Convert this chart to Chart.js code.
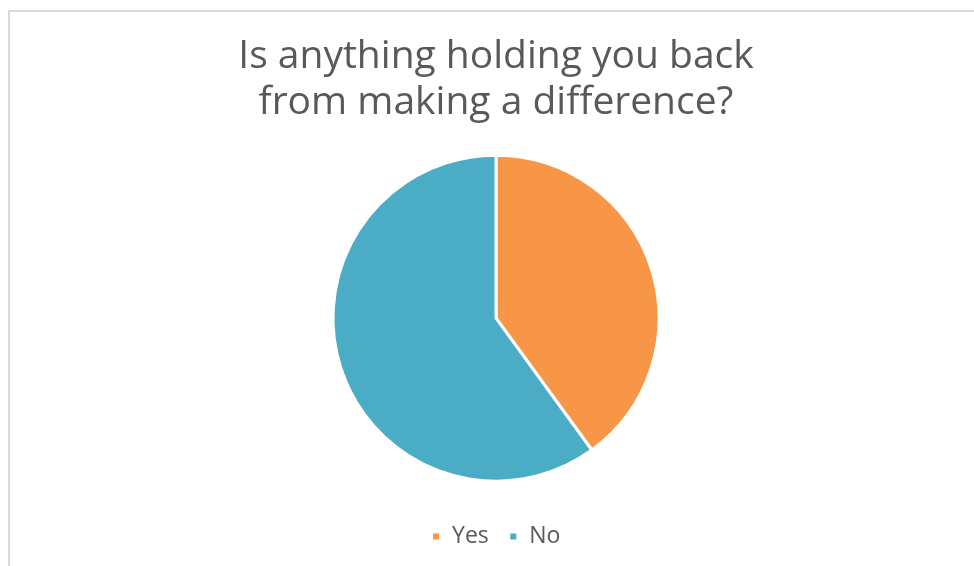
<!DOCTYPE html>
<html>
<head>
<meta charset="utf-8">
<script src="https://cdn.jsdelivr.net/npm/chart.js@4"></script>
<style>
  html, body { margin: 0; padding: 0; background: #ffffff; overflow: hidden; }
  #frame {
    position: absolute; left: 8px; top: 10px; width: 980px; height: 570px;
    border-left: 2px solid #d9d9d9; border-top: 2px solid #d9d9d9;
  }
  #wrap { position: absolute; left: 0; top: 0; width: 974px; height: 566px; }
</style>
</head>
<body>
<div id="frame"></div>
<div id="wrap"><canvas id="pie-chart"></canvas></div>
<script>
const titleLines = ['Is anything holding you back', 'from making a difference?'];
const answers = ['Yes', 'No'];
const shares = [40, 60];
const sliceColors = ['#F79646', '#4BACC6'];

document.addEventListener('DOMContentLoaded', () => {
    const ctx = document.getElementById('pie-chart').getContext('2d');

    new Chart(ctx, {
        type: 'pie',
        data: {
            labels: answers,
            datasets: [{
                data: shares,
                backgroundColor: sliceColors,
                borderColor: '#ffffff',
                borderWidth: 3,
                radius: 163
            }]
        },
        options: {
            responsive: true,
            maintainAspectRatio: false,
            animation: false,
            layout: { padding: { left: 18, right: 0, top: 0, bottom: 8 } },
            plugins: {
                tooltip: { enabled: false },
                title: {
                    display: true,
                    text: titleLines,
                    color: '#595959',
                    font: { family: 'Open Sans', size: 39, weight: 'normal', lineHeight: 1.17 },
                    padding: { top: 34, bottom: 6 }
                },
                legend: {
                    position: 'bottom',
                    labels: {
                        color: '#595959',
                        font: { family: 'Open Sans', size: 23 },
                        boxWidth: 9,
                        boxHeight: 9,
                        padding: 20
                    }
                }
            }
        }
    });
});
</script>
</body>
</html>
